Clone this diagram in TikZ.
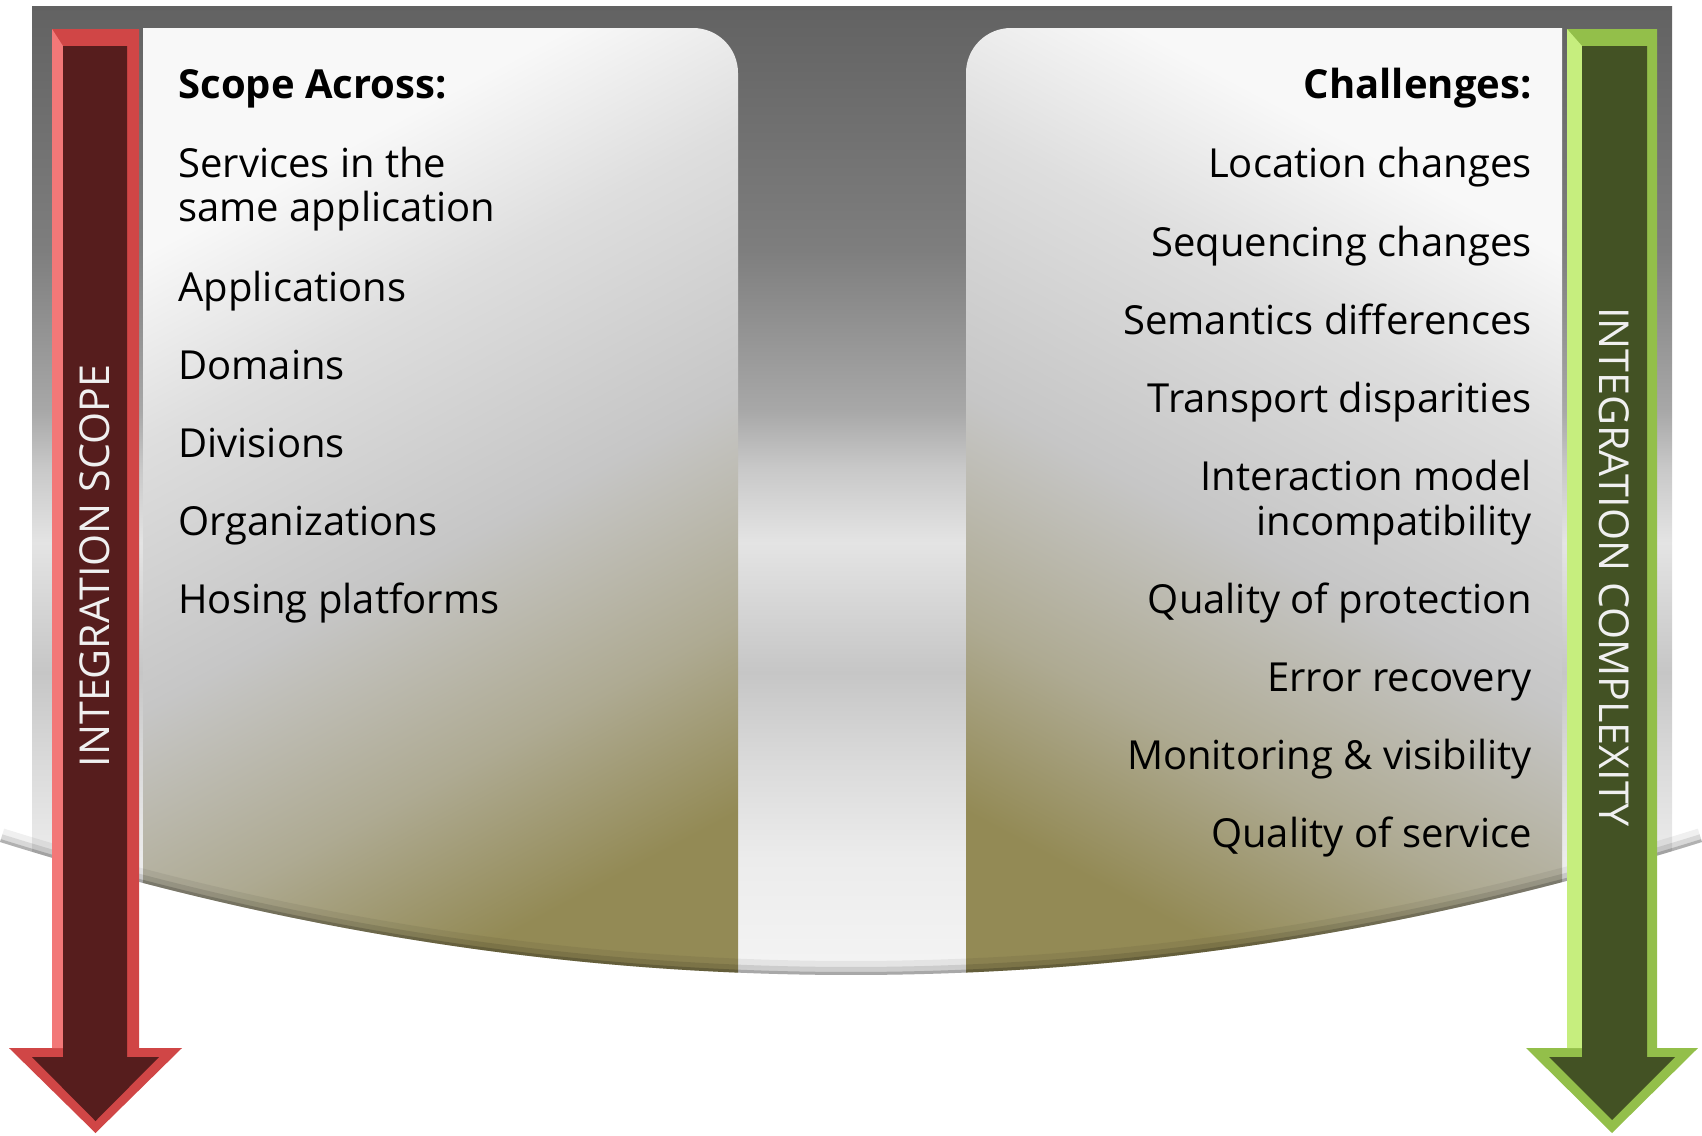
\documentclass[tikz,border=0pt]{standalone}
\usepackage{fontspec}
\setmainfont{Open Sans}

% colours of the backdrop and the two panels
\definecolor{bgsix}{HTML}{626262}
\definecolor{bgseven}{HTML}{7E7E7E}
\definecolor{bgmid}{HTML}{A8A8A8}
\definecolor{bgrise}{HTML}{C8C8C8}
\definecolor{bgglow}{HTML}{E4E4E4}
\definecolor{bgdip}{HTML}{C6C6C6}
\definecolor{bglow}{HTML}{DADADA}
\definecolor{bgpale}{HTML}{ECECEC}
\definecolor{bgend}{HTML}{F4F4F4}
\definecolor{panelolive}{HTML}{938A55}
\definecolor{panelkhaki}{HTML}{AEAA92}
\definecolor{panelgray}{HTML}{C6C6C6}
\definecolor{panellight}{HTML}{DEDEDE}
\definecolor{panelwhite}{HTML}{F8F8F8}

% colours of the two arrows
\definecolor{scopeedge}{HTML}{D04646}
\definecolor{scopelight}{HTML}{F27878}
\definecolor{scopecore}{HTML}{561D1D}
\definecolor{cplxedge}{HTML}{93BF4A}
\definecolor{cplxlight}{HTML}{C6EE7E}
\definecolor{cplxcore}{HTML}{435224}

\pgfdeclareverticalshading{backfade}{100bp}{
	color(0bp)=(bgend); color(25bp)=(bgend); color(31bp)=(bgpale);
	color(36bp)=(bglow); color(40.6bp)=(bgdip); color(47.3bp)=(bgglow);
	color(51.2bp)=(bgrise); color(54.1bp)=(bgmid); color(62.4bp)=(bgseven);
	color(75bp)=(bgsix); color(100bp)=(bgsix)}
\pgfdeclareverticalshading{panelfade}{100bp}{
	color(0bp)=(panelolive); color(26bp)=(panelolive); color(36bp)=(panelkhaki);
	color(48bp)=(panelgray); color(62bp)=(panellight); color(72bp)=(panelwhite);
	color(100bp)=(panelwhite)}

\begin{document}
\begin{tikzpicture}[x=0.5pt, y=-0.5pt]
	\begin{scope}[
		item/.style={inner sep=0, font=\fontsize{20pt}{24pt}\selectfont},
		heading/.style={item, font=\fontsize{20pt}{24pt}\selectfont\bfseries},
		sidelabel/.style={inner sep=0, text=white!94!black, font=\fontsize{20.6pt}{24pt}\selectfont},
		panel/.style={shading=panelfade}]

		\useasboundingbox (0, 0) rectangle (1702, 1135);

		%% Backdrop and panels, cut off by the lower curve
		\begin{scope}
			\clip (0, 0) -- (0, 842) .. controls (567.3, 1019.3) and (1134.7, 1019.3) .. (1702, 842) -- (1702, 0) -- cycle;
			\shade[shading=backfade] (32, 6) rectangle (1672, 975);
			\shade[panel, shading angle=28] (143, 1000) -- (143, 28) -- (693, 28)
				.. controls (717.9, 28) and (738, 48.1) .. (738, 73) -- (738, 1000) -- cycle;
			\shade[panel, shading angle=-28] (966, 1000) -- (966, 73)
				.. controls (966, 48.1) and (986.1, 28) .. (1011, 28) -- (1562, 28) -- (1562, 1000) -- cycle;
			% shadow along the curve
			\draw[line width=14pt, black, opacity=.06] (0, 842) .. controls (567.3, 1019.3) and (1134.7, 1019.3) .. (1702, 842);
			\draw[line width=8pt, black, opacity=.1] (0, 842) .. controls (567.3, 1019.3) and (1134.7, 1019.3) .. (1702, 842);
			\draw[line width=3pt, black, opacity=.18] (0, 842) .. controls (567.3, 1019.3) and (1134.7, 1019.3) .. (1702, 842);
		\end{scope}

		%% Scope arrow
		\fill[scopeedge] (52, 29) -- (139, 29) -- (139, 1048) -- (182, 1048) -- (95.5, 1133) -- (9, 1048) -- (52, 1048) -- cycle;
		\fill[scopelight] (52, 29) -- (63, 46) -- (63, 1048) -- (52, 1048) -- cycle;
		\fill[scopecore] (63, 46) -- (127, 46) -- (127, 1057) -- (159, 1057) -- (95.5, 1121) -- (32, 1057) -- (63, 1057) -- cycle;
		\node[sidelabel, rotate=90] (scopelabel) at (95, 566) {INTEGRATION SCOPE};

		%% Complexity arrow
		\fill[cplxedge] (1567, 29) -- (1657, 29) -- (1657, 1048) -- (1698, 1048) -- (1612, 1133) -- (1526, 1048) -- (1567, 1048) -- cycle;
		\fill[cplxlight] (1567, 29) -- (1582, 46) -- (1582, 1048) -- (1567, 1048) -- cycle;
		\fill[cplxcore] (1582, 46) -- (1647, 46) -- (1647, 1057) -- (1675, 1057) -- (1612, 1120) -- (1549, 1057) -- (1582, 1057) -- cycle;
		\node[sidelabel, rotate=-90] (cplxlabel) at (1614, 567) {INTEGRATION COMPLEXITY};

		% Left list
		\node[heading, anchor=base west] (scopehead) at (178, 98) {Scope Across:};
		\node[item, anchor=base west] (services) at (178, 177) {Services in the};
		\node[item, anchor=base west] (sameapp) at (178, 221) {same application};
		\node[item, anchor=base west] (apps) at (178, 301) {Applications};
		\node[item, anchor=base west] (domains) at (178, 379) {Domains};
		\node[item, anchor=base west] (divisions) at (178, 457) {Divisions};
		\node[item, anchor=base west] (orgs) at (178, 535) {Organizations};
		\node[item, anchor=base west] (hosting) at (178, 613) {Hosing platforms};

		% Right list
		\node[heading, anchor=base east] (challhead) at (1532, 98) {Challenges:};
		\foreach \nm/\y/\txt in {location/177/Location changes, sequencing/256/Sequencing changes,
			semantics/334/Semantics differences, transport/412/Transport disparities,
			interaction/490/Interaction model, incompat/535/incompatibility,
			protection/613/Quality of protection, recovery/691/Error recovery,
			monitoring/769/Monitoring \& visibility, service/847/Quality of service} {
			\node[item, anchor=base east] (\nm) at (1532, \y) {\txt};
		}
	\end{scope}
\end{tikzpicture}
\end{document}
